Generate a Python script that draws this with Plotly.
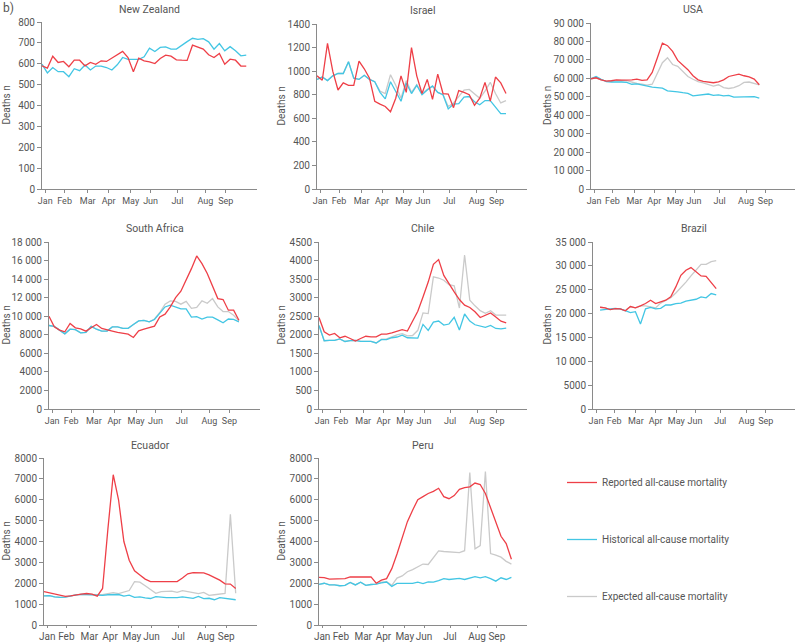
import plotly.graph_objects as go

# weekly all-cause deaths (week 0 = first week of Jan)
MONTHS = ["Jan", "Feb", "Mar", "Apr", "May", "Jun", "Jul", "Aug", "Sep"]
MONTH_WEEKS = [0.6, 4.2, 8.5, 12.4, 16.5, 20.2, 25.2, 30.4, 34.2]

NZ_REPORTED = [590, 579, 636, 606, 611, 586, 617, 617, 590, 606, 597, 614, 611, 627, 646, 659, 630, 562, 627, 614,
               609, 601, 625, 641, 636, 619, 617, 616, 689, 681, 670, 643, 630, 649, 598, 622, 617, 589, 589]
NZ_HISTORICAL = [598, 556, 582, 562, 562, 538, 576, 567, 594, 570, 589, 589, 582, 570, 595, 630, 621, 621, 621, 633,
                 675, 659, 678, 681, 670, 670, 689, 706, 722, 717, 720, 705, 670, 697, 662, 682, 662, 638, 641]

ISR_REPORTED = [960, 923, 1235, 1000, 840, 900, 880, 880, 1085, 1020, 940, 745, 720, 700, 655, 770, 960, 820, 1200,
                960, 810, 930, 760, 975, 810, 805, 690, 835, 820, 800, 710, 770, 905, 745, 950, 900, 810]
ISR_HISTORICAL = [930, 950, 920, 960, 980, 980, 1080, 940, 930, 965, 930, 910, 820, 765, 910, 830, 745, 900, 810,
                  880, 800, 840, 875, 820, 800, 680, 720, 725, 780, 785, 740, 715, 750, 750, 690, 640, 640]
ISR_EXPECTED = [930, 950, 920, 960, 980, 980, 1080, 940, 930, 965, 930, 910, 830, 810, 970, 880, 770, 920, 820,
                885, 810, 845, 870, 820, 800, 700, 730, 790, 840, 845, 810, 770, 830, 905, 810, 730, 750]

USA_REPORTED = [59760, 60300, 59200, 58500, 58700, 59200, 59000, 59000, 59200, 59600, 58900, 59200, 63200, 71000,
                79100, 77700, 74600, 69700, 67400, 64700, 61400, 59200, 58300, 57800, 57600, 58100, 59200, 61000,
                61800, 62300, 61400, 60800, 59600, 56500]
USA_HISTORICAL = [59760, 61000, 59500, 58200, 58000, 58200, 58000, 57800, 56800, 57000, 56400, 55700, 55200, 55000,
                  54700, 53200, 53000, 52700, 52200, 51800, 50500, 50700, 51000, 51500, 50800, 51000, 50500, 50800,
                  49800, 49900, 49700, 50000, 50100, 49300]
USA_EXPECTED = [59760, 60300, 59200, 58500, 58700, 59000, 58900, 58700, 57800, 57200, 56800, 56300, 56800, 63000,
                68500, 71200, 67500, 66500, 64000, 61000, 59500, 58200, 57500, 56800, 55800, 56500, 55000, 54500,
                55000, 56000, 57800, 58000, 57300, 56500]

ZAF_REPORTED = [10000, 8860, 8500, 8320, 9220, 8750, 8640, 8390, 8750, 9110, 8680, 8570, 8390, 8250, 8140, 8070,
                7710, 8430, 8610, 8790, 8930, 9930, 10220, 11000, 12010, 12690, 13880, 15130, 16500, 15670, 14600,
                13160, 11900, 11800, 10650, 10650, 9570]
ZAF_HISTORICAL = [9000, 8900, 8500, 8100, 8600, 8550, 8200, 8250, 8900, 8600, 8400, 8400, 8850, 8850, 8700, 8700,
                  9100, 9500, 9550, 9400, 9650, 10300, 11000, 11200, 11000, 10800, 10800, 9900, 9950, 9700, 9900,
                  9900, 9600, 9300, 9700, 9650, 9400]
ZAF_EXPECTED = [9000, 8900, 8500, 8100, 8600, 8550, 8200, 8250, 8900, 8600, 8400, 8400, 8850, 8850, 8700, 8700,
                9100, 9500, 9550, 9400, 9700, 10400, 11300, 11650, 11600, 11300, 11600, 10850, 10950, 11650, 11400,
                11900, 11000, 10500, 10500, 10100, 9500]

CHL_REPORTED = [2465, 2080, 1990, 2035, 1920, 1960, 1900, 1830, 1900, 1960, 1945, 1945, 2015, 2015, 2050, 2100,
                2140, 2100, 2365, 2635, 3020, 3420, 3900, 4025, 3600, 3360, 3155, 2950, 2800, 2735, 2620, 2465,
                2530, 2590, 2480, 2365, 2320]
CHL_HISTORICAL = [2250, 1840, 1850, 1850, 1890, 1820, 1840, 1850, 1820, 1820, 1820, 1780, 1870, 1870, 1920, 1940,
                  1990, 1920, 1920, 1910, 2280, 2120, 2340, 2370, 2260, 2290, 2470, 2130, 2560, 2370, 2270, 2240,
                  2200, 2250, 2170, 2160, 2180]
CHL_EXPECTED = [2250, 1840, 1850, 1850, 1890, 1820, 1840, 1850, 1820, 1820, 1820, 1780, 1880, 1890, 1950, 2000,
                2030, 1970, 1980, 2120, 2590, 2570, 3560, 3530, 3470, 3350, 3320, 2720, 4150, 2930, 2780, 2650,
                2580, 2650, 2530, 2530, 2530]

# Brazil series start a little into January
BRA_START = 1.4
BRA_REPORTED = [21330, 21200, 20850, 21050, 20990, 20570, 21470, 21200, 21610, 22100, 22800, 22100, 22450, 22800,
                23500, 25590, 28030, 29070, 29630, 28720, 27890, 27820, 26630, 25240]
BRA_HISTORICAL = [20700, 20900, 21000, 21100, 21000, 20600, 20200, 20400, 17800, 21000, 21300, 21000, 21100, 21800,
                  21800, 22100, 22200, 22600, 22800, 23000, 23500, 23300, 24200, 23900]
BRA_EXPECTED = [21330, 21200, 20850, 21050, 20990, 20570, 21470, 21200, 21610, 21600, 21400, 21200, 22200, 22700,
                23300, 24300, 25400, 26600, 27900, 29100, 30300, 30300, 30900, 31100]

ECU_REPORTED = [1600, 1550, 1500, 1440, 1370, 1400, 1450, 1480, 1510, 1480, 1380, 1750, 4600, 7200, 6000, 4000,
                3100, 2600, 2400, 2200, 2080, 2080, 2090, 2100, 2100, 2080, 2250, 2450, 2510, 2520, 2500, 2400,
                2280, 2150, 1970, 1960, 1750]
ECU_HISTORICAL = [1400, 1410, 1350, 1320, 1340, 1400, 1440, 1470, 1460, 1450, 1440, 1420, 1450, 1470, 1460, 1380,
                  1430, 1320, 1350, 1300, 1270, 1360, 1330, 1310, 1310, 1310, 1350, 1320, 1280, 1370, 1260, 1280,
                  1210, 1310, 1270, 1250, 1210]
ECU_EXPECTED = [1400, 1410, 1350, 1320, 1340, 1400, 1440, 1470, 1460, 1450, 1440, 1450, 1500, 1550, 1500, 1560,
                1650, 2080, 2050, 1880, 1700, 1520, 1600, 1620, 1620, 1560, 1650, 1600, 1550, 1500, 1560, 1420,
                1450, 1480, 1510, 5300, 1520]

PER_REPORTED = [2280, 2270, 2200, 2200, 2200, 2220, 2300, 2300, 2300, 2310, 2310, 2000, 2150, 2220, 2700, 3400,
                4200, 4950, 5500, 6000, 6150, 6300, 6400, 6550, 6150, 6050, 6200, 6500, 6580, 6620, 6800, 6730,
                6300, 5600, 4950, 4250, 3900, 3150]
PER_HISTORICAL = [1950, 2000, 1920, 1920, 1880, 1900, 2040, 1920, 2050, 1900, 1940, 1960, 2020, 2060, 1850, 1990,
                  1990, 2000, 1990, 2050, 1980, 2060, 2050, 2130, 2220, 2180, 2200, 2230, 2180, 2260, 2320, 2260,
                  2320, 2220, 2100, 2260, 2180, 2280]
PER_EXPECTED = [1950, 2000, 1920, 1920, 1880, 1900, 2040, 1920, 2050, 1900, 1940, 1960, 2050, 2080, 1900, 2250,
                2350, 2550, 2650, 2800, 2920, 2900, 3200, 3550, 3520, 3500, 3480, 3470, 3560, 7300, 3650, 3800,
                7350, 3420, 3350, 3250, 3050, 2920]

# name, reported, historical, expected, first week, y max, y step
PANELS = [
    ("New Zealand", NZ_REPORTED, NZ_HISTORICAL, None, 0, 800, 100),
    ("Israel", ISR_REPORTED, ISR_HISTORICAL, ISR_EXPECTED, 0, 1400, 200),
    ("USA", USA_REPORTED, USA_HISTORICAL, USA_EXPECTED, 0, 90000, 10000),
    ("South Africa", ZAF_REPORTED, ZAF_HISTORICAL, ZAF_EXPECTED, 0, 18000, 2000),
    ("Chile", CHL_REPORTED, CHL_HISTORICAL, CHL_EXPECTED, 0, 4500, 500),
    ("Brazil", BRA_REPORTED, BRA_HISTORICAL, BRA_EXPECTED, BRA_START, 35000, 5000),
    ("Ecuador", ECU_REPORTED, ECU_HISTORICAL, ECU_EXPECTED, 0, 8000, 1000),
    ("Peru", PER_REPORTED, PER_HISTORICAL, PER_EXPECTED, 0, 8000, 1000),
]

SERIES_NAMES = ["Expected all-cause mortality", "Historical all-cause mortality", "Reported all-cause mortality"]

# pixel boxes of each plot area: left, right, top, bottom
BOXES = [
    (42, 257, 22, 189), (317, 527, 24, 189), (591, 795, 23, 189),
    (49, 260, 242, 409), (319, 527, 242, 409), (593, 795, 242, 409),
    (44, 257, 458, 625), (319, 527, 458, 625),
]
YTITLE_X = [6, 281, 547]

W, H = 797, 644
RED, CYAN, GREY = "#ee3f47", "#43c6e4", "#cacaca"
TEXT = "#555555"
AXIS = "#8a8a8a"
FONT = "Roboto, sans-serif"


def fmt(v):
    return f"{v:,}".replace(",", " ") if v >= 10000 else str(v)


fig = go.Figure()
annotations = []
layout = {}

for k, (name, rep, hist, exp, start, ymax, step) in enumerate(PANELS):
    left, right, top, bottom = BOXES[k]
    sfx = "" if k == 0 else str(k + 1)
    xa, ya = "x" + sfx, "y" + sfx
    row = k // 3

    for vals, color, label in [(exp, GREY, SERIES_NAMES[0]), (hist, CYAN, SERIES_NAMES[1]),
                               (rep, RED, SERIES_NAMES[2])]:
        if vals is None:
            continue
        weeks = [start + i for i in range(len(vals))]
        fig.add_trace(go.Scatter(
            x=weeks, y=vals, mode="lines", xaxis=xa, yaxis=ya,
            line=dict(color=color, width=1.3),
            name=label, legendgroup=label, showlegend=False,
        ))

    yticks = list(range(0, ymax + 1, step))
    layout["xaxis" + sfx] = dict(
        domain=[left / W, right / W], anchor=ya, range=[0, 40],
        tickmode="array", tickvals=MONTH_WEEKS, ticktext=MONTHS, tickangle=0, automargin=False,
        ticks="outside", ticklen=3 if row < 2 else 2, tickcolor=AXIS, showline=True, linecolor=AXIS,
        linewidth=1, showgrid=False, zeroline=False, fixedrange=True,
        tickfont=dict(size=10 if row == 2 else 9, color=TEXT),
    )
    layout["yaxis" + sfx] = dict(
        domain=[1 - bottom / H, 1 - top / H], anchor=xa, range=[0, ymax], automargin=False,
        tickmode="array", tickvals=yticks, ticktext=[fmt(v) for v in yticks],
        ticks="outside", ticklen=4, tickcolor=AXIS, showline=True, linecolor=AXIS, linewidth=1,
        showgrid=False, zeroline=False, fixedrange=True,
        tickfont=dict(size=10, color=TEXT),
    )
    annotations.append(dict(
        text=name, xref="paper", yref="paper", x=(left + right) / 2 / W, y=1 - (top - 13) / H,
        showarrow=False, xanchor="center", yanchor="middle", font=dict(size=10.5, color=TEXT),
    ))
    annotations.append(dict(
        text="Deaths n", xref="paper", yref="paper", x=YTITLE_X[k % 3] / W, y=1 - (top + bottom) / 2 / H,
        showarrow=False, xanchor="center", yanchor="middle", textangle=-90, font=dict(size=10, color=TEXT),
    ))

annotations.append(dict(
    text="b)", xref="paper", yref="paper", x=1 / W, y=1 - 8 / H,
    showarrow=False, xanchor="left", yanchor="middle", font=dict(size=12, color=TEXT),
))

# legend entries, one group each so they can be spread out
for label, color in [(SERIES_NAMES[2], RED), (SERIES_NAMES[1], CYAN), (SERIES_NAMES[0], GREY)]:
    fig.add_trace(go.Scatter(
        x=[None], y=[None], mode="lines", line=dict(color=color, width=1.3),
        name=label, legendgroup=label, showlegend=True, xaxis="x9", yaxis="y9",
    ))
layout["xaxis9"] = dict(domain=[0.7, 0.71], visible=False, anchor="y9")
layout["yaxis9"] = dict(domain=[0.0, 0.01], visible=False, anchor="x9")

fig.update_layout(
    **layout,
    annotations=annotations,
    width=W, height=H,
    margin=dict(l=0, r=0, t=0, b=0),
    paper_bgcolor="white", plot_bgcolor="white",
    font=dict(family=FONT, color=TEXT),
    legend=dict(
        x=562 / W, y=1 - 468 / H, xanchor="left", yanchor="top",
        tracegroupgap=38, font=dict(size=10, color=TEXT), bgcolor="rgba(0,0,0,0)",
        traceorder="grouped",
    ),
    showlegend=True,
)

# drop the default page margin so the figure sits at the window's top-left corner
fig.write_html("out.html", config={"displayModeBar": False},
               post_script="document.body.style.margin = '0';")
